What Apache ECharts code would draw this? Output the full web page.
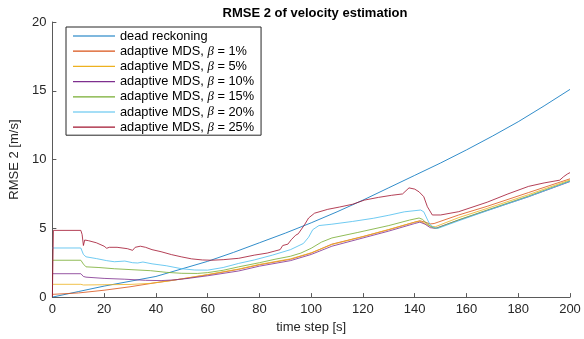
<!DOCTYPE html>
<html>
<head>
<meta charset="utf-8">
<title>RMSE 2 of velocity estimation</title>
<script src="https://cdn.jsdelivr.net/npm/echarts@6/dist/echarts.min.js"></script>
<style>
  html, body { margin: 0; padding: 0; background: #fff; }
  #chart { width: 584px; height: 339px; }
</style>
</head>
<body>
<div id="chart"></div>
<script>
// values, [time step, RMSE]
var deadReckoning = [
  [0, 0], [10, 0.4], [20, 0.8], [30, 1.15], [40, 1.5], [50, 2.05], [60, 2.6], [70, 3.25],
  [80, 3.95], [90, 4.65], [100, 5.4], [110, 6.2], [120, 7.05], [130, 7.95], [140, 8.85],
  [150, 9.75], [160, 10.7], [170, 11.7], [180, 12.75], [190, 13.9], [200, 15.1]
]
var beta1 = [
  [0, 0.2], [10, 0.3], [20, 0.5], [30, 0.75], [40, 1.05], [50, 1.32], [60, 1.62], [72, 2.02],
  [80, 2.35], [92, 2.75], [100, 3.2], [108, 3.85], [120, 4.4], [130, 4.9], [140, 5.45],
  [142, 5.55], [144, 5.45], [146, 5.32], [147.5, 5.35], [157, 5.97], [168, 6.6], [184, 7.6], [200, 8.6]
]
var beta5 = [
  [0, 0.93], [11, 0.93], [12, 0.88], [20, 0.9], [30, 0.92], [38, 1.0], [45, 1.17], [50, 1.33],
  [60, 1.64], [72, 2.04], [80, 2.38], [92, 2.78], [100, 3.22], [108, 3.82], [120, 4.4], [130, 4.92],
  [140, 5.45], [142, 5.52], [144, 5.35], [146, 5.15], [148, 5.12], [157, 5.78], [168, 6.45], [184, 7.45], [200, 8.52]
]
var beta10 = [
  [0, 1.7], [11, 1.7], [12, 1.5], [13, 1.45], [20, 1.36], [28, 1.3], [36, 1.22], [42, 1.2],
  [47, 1.25], [52, 1.35], [60, 1.55], [72, 1.9], [80, 2.25], [92, 2.65], [100, 3.1], [108, 3.7],
  [118, 4.2], [130, 4.8], [140, 5.35], [142, 5.45], [144, 5.3], [146, 5.05], [148, 5.0],
  [157, 5.6], [168, 6.3], [184, 7.3], [200, 8.4]
]
var beta15 = [
  [0, 2.68], [11, 2.68], [12, 2.4], [13, 2.2], [18, 2.15], [24, 2.06], [30, 2.0], [38, 1.92],
  [44, 1.8], [50, 1.73], [56, 1.72], [60, 1.78], [66, 1.95], [72, 2.2], [80, 2.5], [86, 2.75],
  [92, 2.97], [96, 3.2], [100, 3.55], [104, 4.0], [108, 4.3], [118, 4.7], [130, 5.2], [138, 5.6],
  [141.7, 5.75], [143, 5.65], [145, 5.3], [147, 5.05], [148.5, 5.0], [157, 5.62], [168, 6.33],
  [184, 7.35], [200, 8.45]
]
var beta20 = [
  [0, 3.57], [11, 3.57], [12, 3.1], [13, 2.93], [17, 2.8], [21, 2.65], [24, 2.57], [28, 2.62],
  [31, 2.5], [33, 2.48], [35, 2.55], [38.5, 2.42], [44, 2.28], [50, 2.06], [55, 1.97], [60, 1.96],
  [66, 2.15], [72, 2.45], [78, 2.7], [85, 3.05], [92, 3.45], [97, 3.9], [99, 4.35], [100.6, 4.9],
  [103, 5.2], [108, 5.3], [116, 5.5], [124, 5.73], [130, 5.95], [136, 6.2], [142.3, 6.33],
  [143.5, 6.2], [145, 5.6], [146, 5.25], [147.5, 5.05], [149, 5.0], [157, 5.55], [168, 6.28],
  [184, 7.3], [200, 8.42]
]
var beta25 = [
  [0, 0], [0.4, 4.85], [11, 4.85], [11.5, 4.55], [12, 3.75], [12.5, 4.15], [14, 4.1], [17, 3.95],
  [20, 3.7], [21, 3.55], [22, 3.62], [25, 3.62], [29, 3.52], [31, 3.4], [32, 3.62], [34, 3.7],
  [36, 3.62], [38.5, 3.45], [42, 3.3], [46, 3.09], [50, 2.92], [53.8, 2.78], [58, 2.7], [61.5, 2.68],
  [66, 2.72], [72, 2.82], [78, 3.05], [83, 3.2], [86, 3.35], [88, 3.45], [89, 3.75], [91, 3.85],
  [92.3, 4.17], [93, 4.2], [94, 4.5], [95, 4.6], [97.4, 5.25], [99, 5.75], [101.3, 6.1],
  [106.4, 6.38], [111, 6.55], [116, 6.75], [120.5, 7.05], [126, 7.25], [131, 7.4], [135.3, 7.5],
  [137.8, 7.94], [140, 7.85], [141.7, 7.65], [143.5, 7.3], [144.9, 6.57], [146.8, 5.97],
  [150, 5.97], [157, 6.21], [168, 6.9], [176, 7.5], [184, 8.05], [190, 8.3], [196, 8.5],
  [197.5, 8.75], [199, 8.95], [200, 9.05]
]

var seriesNames = [
  'dead reckoning',
  'adaptive MDS, β = 1%',
  'adaptive MDS, β = 5%',
  'adaptive MDS, β = 10%',
  'adaptive MDS, β = 15%',
  'adaptive MDS, β = 20%',
  'adaptive MDS, β = 25%'
]
var seriesData = [deadReckoning, beta1, beta5, beta10, beta15, beta20, beta25]
var colors = ['#0072BD', '#D95319', '#EDB120', '#7E2F8E', '#77AC30', '#4DBEEE', '#A2142F']
var xTicks = [0, 200, 20]
var yTicks = [0, 20, 5]

var font = 'Liberation Sans, Arial, Helvetica, sans-serif'
var axisColor = '#5a5a5a'

var series = []
for (var i = 0; i < seriesNames.length; i++) {
  series.push({
    name: seriesNames[i],
    type: 'line',
    data: seriesData[i],
    showSymbol: false,
    symbol: 'none',
    lineStyle: { width: 0.9, color: colors[i], opacity: 0.9 },
    itemStyle: { color: colors[i] },
    z: 2 + i
  })
}

var oChart = echarts.init(document.getElementById('chart'))
oChart.setOption({
  animation: false,
  color: colors,
  title: {
    text: 'RMSE 2 of velocity estimation',
    left: 310,
    textAlign: 'center',
    top: 2,
    textStyle: { fontFamily: font, fontSize: 13, fontWeight: 'bold', color: '#000' }
  },
  legend: {
    data: seriesNames,
    orient: 'vertical',
    left: 66,
    top: 27,
    padding: [2, 7, 1, 7],
    itemWidth: 42,
    itemHeight: 1.2,
    itemGap: 1.2,
    icon: 'rect',
    borderColor: '#262626',
    borderWidth: 1,
    backgroundColor: '#fff',
    formatter: function (name) {
      return name.replace('β', '{b|β}')
    },
    textStyle: {
      fontFamily: font,
      fontSize: 12.8,
      lineHeight: 14,
      color: '#000',
      rich: {
        b: { fontFamily: 'Liberation Serif, DejaVu Serif, serif', fontStyle: 'italic', fontSize: 12.8, lineHeight: 14 }
      }
    }
  },
  grid: { left: 50, right: 14, top: 22, bottom: 41 },
  xAxis: {
    type: 'value',
    min: xTicks[0],
    max: xTicks[1],
    interval: xTicks[2],
    name: 'time step [s]',
    nameLocation: 'middle',
    nameGap: 22,
    nameTextStyle: { fontFamily: font, fontSize: 13, color: '#262626' },
    axisLine: { lineStyle: { color: axisColor, width: 1 } },
    axisTick: { inside: true, length: 4, lineStyle: { color: axisColor } },
    axisLabel: { margin: 6, fontFamily: font, fontSize: 13, color: '#262626' },
    splitLine: { show: false }
  },
  yAxis: {
    type: 'value',
    min: yTicks[0],
    max: yTicks[1],
    interval: yTicks[2],
    name: 'RMSE 2 [m/s]',
    nameLocation: 'middle',
    nameGap: 29,
    nameTextStyle: { fontFamily: font, fontSize: 13, color: '#262626' },
    axisLine: { show: true, lineStyle: { color: axisColor, width: 1 } },
    axisTick: { show: true, inside: true, length: 4, lineStyle: { color: axisColor } },
    axisLabel: { margin: 6, fontFamily: font, fontSize: 13, color: '#262626' },
    splitLine: { show: false }
  },
  series: series
})
</script>
</body>
</html>
